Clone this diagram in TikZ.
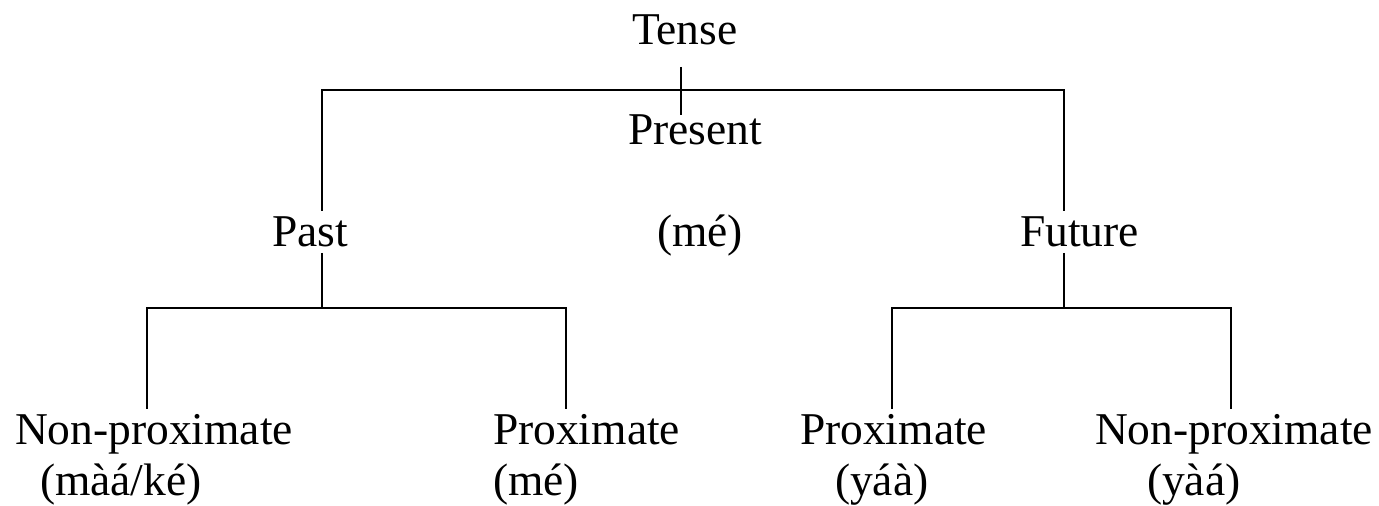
\documentclass[tikz,border=0pt]{standalone}
\usepackage{fontspec}
\setmainfont{Liberation Serif}

\begin{document}
\begin{tikzpicture}[x=0.5pt,y=-0.5pt,line width=1.2pt,every node/.style={inner sep=0pt,outer xsep=0pt,outer ysep=3pt,text height=15pt,text depth=0pt,anchor=base west,font=\fontsize{22.75}{27}\selectfont}]
  \useasboundingbox (0,0) rectangle (1379,506);

  \node (tense) at (632,45) {Tense};
  \node (present) at (628,145) {Present};
  \node (past) at (272,247) {Past};
  \node (presentm) at (657,247) {(mé)};
  \node (future) at (1020,247) {Future};

  \node (pastnp) at (15,445) {Non-proximate};
  \node (pastnpm) at (40,495) {(màá/ké)};
  \node (pastp) at (493,445) {Proximate};
  \node (pastpm) at (493,495) {(mé)};
  \node (futp) at (800,445) {Proximate};
  \node (futpm) at (835,495) {(yáà)};
  \node (futnp) at (1095,445) {Non-proximate};
  \node (futnpm) at (1147,495) {(yàá)};

  \coordinate (tl) at (322,90);
  \coordinate (tr) at (1064,90);
  \coordinate (pj) at (322,308);
  \coordinate (pl) at (147,308);
  \coordinate (pr) at (566,308);
  \coordinate (fj) at (1064,308);
  \coordinate (fl) at (892,308);
  \coordinate (fr) at (1231,308);

  \draw[shorten <=8pt,shorten >=-3pt] ([xshift=-2pt]tense.south) -- ([xshift=-2pt]tense.south |- present.north);
  \draw (past.north -| tl) -- (tl) -- (tr) -- (tr |- future.north);
  \draw (past.south -| pj) -- (pj);
  \draw (pastnp.north -| pl) -- (pl) -- (pr) -- (pr |- pastp.north);
  \draw (future.south -| fj) -- (fj);
  \draw (futp.north -| fl) -- (fl) -- (fr) -- (fr |- futnp.north);
\end{tikzpicture}
\end{document}
